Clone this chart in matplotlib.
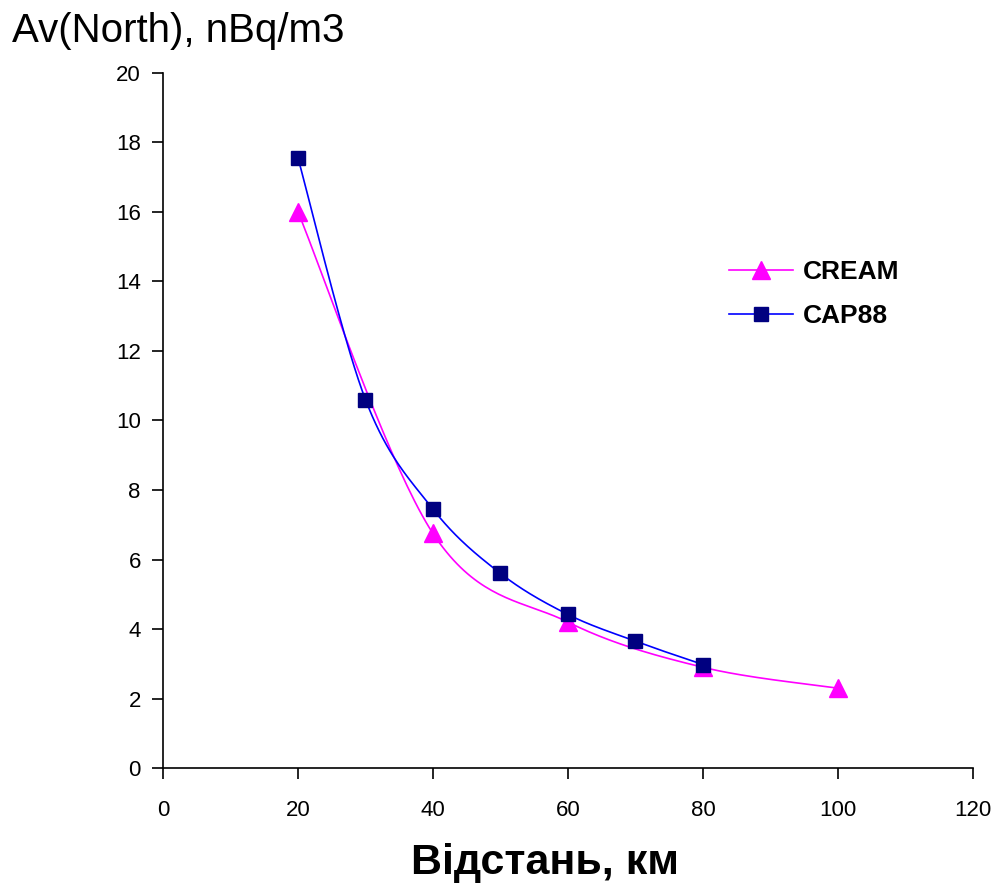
import numpy as np
import matplotlib
matplotlib.use("Agg")
import matplotlib.pyplot as plt
from matplotlib.lines import Line2D

# values
cream_x = [20, 40, 60, 80, 100]
cream_y = [16.0, 6.75, 4.2, 2.9, 2.3]
cap_x = [20, 30, 40, 50, 60, 70, 80]
cap_y = [17.55, 10.6, 7.45, 5.6, 4.42, 3.65, 2.98]
x_ticks = [0, 20, 40, 60, 80, 100, 120]
y_ticks = [0, 2, 4, 6, 8, 10, 12, 14, 16, 18, 20]


def smooth(xs, ys, n=40):
    # Excel-like smoothed line: cubic bezier segments between the points
    p = np.column_stack([xs, ys]).astype(float)
    out = []
    for i in range(len(p) - 1):
        p0 = p[i - 1] if i > 0 else p[i]
        p1 = p[i]
        p2 = p[i + 1]
        p3 = p[i + 2] if i + 2 < len(p) else p[i + 1]
        c1 = p1 + (p2 - p0) / 6.0
        c2 = p2 - (p3 - p1) / 6.0
        t = np.linspace(0, 1, n)[:, None]
        seg = ((1 - t) ** 3) * p1 + 3 * ((1 - t) ** 2) * t * c1 + 3 * (1 - t) * t ** 2 * c2 + t ** 3 * p2
        out.append(seg)
    out = np.vstack(out)
    return out[:, 0], out[:, 1]


plt.rcParams['font.family'] = ['Liberation Sans', 'DejaVu Sans']

fig = plt.figure(figsize=(10.03, 8.88), dpi=100)
ax = fig.add_axes([0.1625, 0.135, 0.8075, 0.783])

sx, sy = smooth(cream_x, cream_y)
ax.plot(sx, sy, color="#FF00FF", lw=1.2, zorder=2)
ax.plot(cream_x, cream_y, ls="none", marker="^", ms=13, color="#FF00FF", zorder=3)

sx, sy = smooth(cap_x, cap_y)
ax.plot(sx, sy, color="#0000FF", lw=1.2, zorder=4)
ax.plot(cap_x, cap_y, ls="none", marker="s", ms=10, color="#000080", zorder=5)

ax.set_xlim(0, 120)
ax.set_ylim(0, 20)
ax.set_xticks(x_ticks)
ax.set_yticks(y_ticks)
ax.tick_params(direction="out", length=8, width=1.2, labelsize=16, pad=15)
ax.tick_params(axis="y", pad=8)
for s in ["top", "right"]:
    ax.spines[s].set_visible(False)
for s in ["left", "bottom"]:
    ax.spines[s].set_linewidth(1.2)

fig.text(0.012, 0.965, "Av(North), nBq/m3", fontsize=29, ha="left", va="center")
fig.text(0.543, 0.028, "Відстань, км", fontsize=31, fontweight="bold", ha="center", va="center")

handles = [
    Line2D([0], [0], color="#FF00FF", lw=1.2, marker="^", ms=13, markerfacecolor="#FF00FF"),
    Line2D([0], [0], color="#0000FF", lw=1.2, marker="s", ms=10, markerfacecolor="#000080",
           markeredgecolor="#000080"),
]
ax.legend(handles, ["CREAM", "CAP88"], loc="upper left", bbox_to_anchor=(0.67, 0.765),
          frameon=False, prop={"weight": "bold", "size": 19},
          handlelength=2.4, handletextpad=0.4, labelspacing=0.75)

fig.savefig("out.png", dpi=100)
